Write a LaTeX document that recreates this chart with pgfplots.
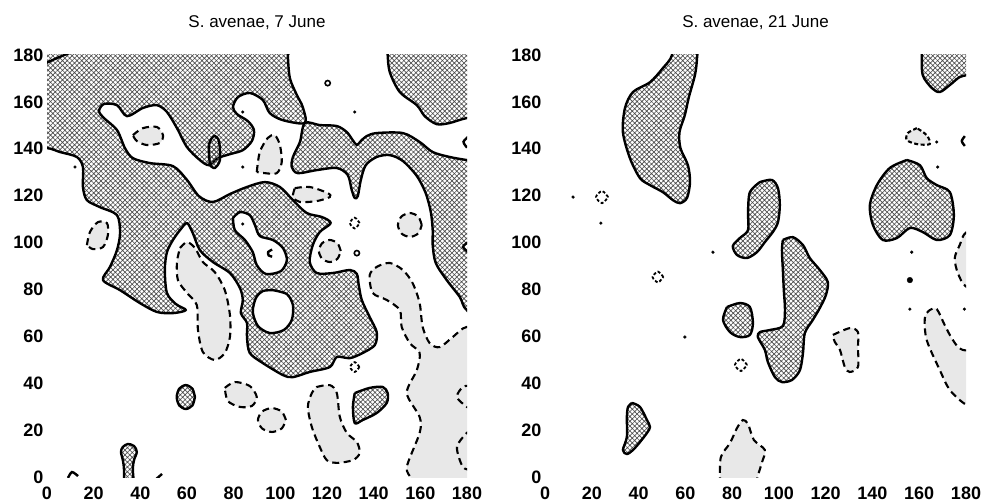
\documentclass[border=0pt]{standalone}
\usepackage{fontspec}
\setmainfont{Liberation Sans}
\usepackage{pgfplots}
\pgfplotsset{compat=1.18}
\usetikzlibrary{patterns.meta}
\tikzset{
 hatch/.style={draw=black, line width=2.4pt, line join=round, pattern={Hatch[angle=45,distance=3.4pt,line width=0.65pt]}, pattern color=black!70, smooth, mark=none},
 hole/.style={draw=black, line width=2.4pt, fill=white, smooth, mark=none},
 lowreg/.style={draw=black, line width=2.1pt, dash pattern=on 7pt off 4.5pt, fill=black!9, smooth, mark=none},
 tinyd/.style={draw=black, line width=1.8pt, dash pattern=on 3pt off 2pt, smooth, mark=none},
 cline/.style={draw=black, line width=2.4pt, smooth, mark=none},
 dline/.style={draw=black, line width=2.1pt, dash pattern=on 7pt off 4.5pt, smooth, mark=none},
}
\pgfplotsset{
 panel/.style={scale only axis, height=422pt, xmin=0, xmax=180, ymin=0, ymax=180,
  axis line style={draw=none}, major tick length=0pt, tick style={draw=none},
  xtick={0,20,...,180}, ytick={0,20,...,180},
  /pgf/number format/assume math mode=true,
  tick label style={font=\fontsize{18}{18}\selectfont\bfseries},
  xticklabel style={yshift=-6pt},
  title style={at={(0.5,1)}, anchor=base, yshift=21pt, font=\fontsize{17}{17}\selectfont},
  anchor=south west},
}
\begin{document}
\begin{tikzpicture}
\path[use as bounding box] (0,0) rectangle (984pt,503pt);
% ---------------- 7 June ----------------
\begin{axis}[panel, at={(47pt,26pt)}, width=420pt, title={S. avenae, 7 June}]
% H1 large hatched region
\addplot[hatch] coordinates {(-10,190) (103,188) (103.2,180) (104.1,170.1) (107.1,162.9) (109.6,157.8) (110.5,151.0) (101.1,152.2) (95.5,155.2) (92.5,160.8) (86.9,163.8) (81.8,162.0) (79.7,157.8) (81.4,154.8) (86.1,151.8) (88.7,148.0) (87.8,143.3) (83.9,139.4) (78.4,137.7) (73.2,136.0) (69.4,133.0) (65.5,135.2) (60.0,140.7) (55.7,148.8) (51.4,155.7) (47.1,158.6) (41.1,157.4) (34.3,153.9) (30.0,158.6) (24.4,159.1) (22.3,156.1) (24.4,153.1) (30.0,148.0) (33.4,140.3) (36.8,136.0) (44.1,133.9) (54.0,132.6) (60.0,126.7) (65.1,119.8) (71.1,117.3) (78.4,120.7) (85.7,123.7) (93.4,125.8) (99.8,123.7) (105.4,118.1) (111.3,112.6) (117.8,110.9) (121.6,108.3) (116.9,104.5) (113.9,98.9) (112.6,91.7) (115.6,87.0) (122.5,87.0) (129.8,88.3) (132.8,86.6) (133.6,81.9) (134.9,75.5) (138.3,68.2) (141.3,61.8) (140.5,56.3) (135.3,52.9) (129.8,50.7) (124.2,51.2) (121.2,46.9) (112.6,44.8) (105.4,42.6) (101.1,43.5) (92.5,48.6) (86.9,52.9) (85.7,59.7) (85.7,65.7) (83.1,69.9) (83.9,75.5) (82.7,80.6) (78.4,87.0) (71.1,91.7) (65.5,96.8) (62.5,104.0) (60.0,108.3) (57.0,105.3) (54.0,101.1) (51.4,95.9) (50.5,88.3) (51.4,78.5) (55.2,73.8) (59.5,71.2) (54.0,69.9) (47.1,70.4) (39.8,74.2) (31.3,79.7) (24.0,84.0) (27.0,89.6) (30.0,96.8) (31.3,104.0) (30.0,111.7) (22.7,115.1) (17.1,118.1) (15.4,123.7) (15.4,132.2) (12.8,136.5) (5.6,138.6) (0,140.3) (-10,140) (-10,190)};
% H2 middle right band
\addplot[hatch] coordinates {(190,134) (190,67) (179.9,71.2) (176.9,76.8) (171.3,84.0) (166.6,91.3) (165.3,98.9) (165.3,105.3) (164.5,113.0) (162.3,121.1) (158.5,128.4) (152.5,134.8) (146.9,137.3) (141.3,136.5) (136.6,133.0) (134.5,126.7) (133.2,119.8) (131.9,119.0) (130.6,122.4) (128.9,128.8) (124.2,131.8) (115.6,130.9) (107.5,129.6) (104.9,132.2) (105.4,136.5) (108.4,142.9) (110.5,151.0) (116.9,150.1) (124.2,149.7) (128.5,147.1) (131.0,143.7) (132.8,141.6) (134.5,143.3) (137.0,145.4) (141.3,146.7) (152.5,146.7) (159.7,142.9) (165.3,138.6) (172.6,136.5) (179.9,135.2) (190,134)};
% H3 top right corner
\addplot[hatch] coordinates {(146,190) (146,183) (146.0,180) (146.9,172.7) (151.2,164.2) (158.5,158.6) (161.9,153.9) (167.0,150.5) (172.6,151.0) (179.9,153.1) (190,154) (190,190) (146,190)};
% holes
\addplot[hole] coordinates {(79.7,110.5) (82.7,113.0) (86.9,111.7) (89.1,107.5) (91.2,102.8) (96.8,101.1) (101.1,97.7) (102.8,92.5) (100.2,87.8) (93.8,86.6) (89.9,90.4) (88.2,95.9) (84.8,101.1) (80.5,105.3) (79.7,110.5)};
\addplot[hole] coordinates {(96.8,79.7) (102.8,78.0) (105.4,73.3) (104.9,67.0) (101.5,62.7) (95.5,61.4) (90.4,64.4) (88.2,70.4) (89.5,76.3) (92.5,79.3) (96.8,79.7)};
% finger
\addplot[hatch] coordinates {(69.8,133.0) (69.4,141.6) (71.5,145.4) (73.7,143.3) (74.1,135.2) (71.9,131.8) (69.8,133.0)};
% small lines
\addplot[cline] coordinates {(-1,176.3) (4.3,178.7) (9.9,181)};
\addplot[cline] coordinates {(181,145.5) (178.5,143) (180,140.5)};
\addplot[cline, fill=white] coordinates {(181,100.5) (178.3,98.2) (181,95.5)};
\addplot[cline] coordinates {(96.5,97) (94.8,96) (95,94.5) (96.5,94)};
% low-density regions
\addplot[lowreg] coordinates {(36.8,145.8) (41.1,148.8) (47.1,149.3) (49.7,145.8) (48.4,142.5) (42.8,141.6) (38.5,143.3) (36.8,145.8)};
\addplot[lowreg] coordinates {(17.1,98.9) (18.4,104.5) (21.8,108.7) (25.7,108.3) (26.1,103.2) (24.0,98.1) (19.7,97.2) (17.1,98.9)};
\addplot[lowreg] coordinates {(89.9,130.1) (91.2,138.6) (94.6,144.6) (97.6,145.8) (99.8,141.6) (100.6,134.3) (98.5,129.6) (93.4,129.6) (89.9,130.1)};
\addplot[lowreg] coordinates {(106.2,123.2) (112.6,123.7) (120.3,121.1) (121.2,119.4) (115.6,117.7) (108.4,117.3) (105.4,119.4) (106.2,123.2)};
\addplot[lowreg] coordinates {(160.6,107.5) (159.1,111.1) (155.5,112.6) (151.9,111.1) (150.4,107.5) (151.9,103.9) (155.5,102.4) (159.1,103.9) (160.6,107.5)};
\addplot[tinyd] coordinates {(134.0,108.3) (131.9,110.6) (129.8,108.3) (131.9,106.0) (134.0,108.3)};
\addplot[lowreg] coordinates {(125.9,96.4) (124.5,99.7) (121.2,101.1) (117.9,99.7) (116.5,96.4) (117.9,93.1) (121.2,91.7) (124.5,93.1) (125.9,96.4)};
\addplot[lowreg] coordinates {(57.0,97.7) (60.0,100.2) (63.4,97.7) (66.8,91.7) (71.9,87.4) (76.2,79.7) (78.4,69.1) (78.4,59.7) (76.2,52.9) (71.9,49.9) (66.8,53.3) (64.7,62.7) (64.2,73.3) (60.0,78.5) (56.1,84.0) (55.7,91.7) (57.0,97.7)};
\addplot[lowreg] coordinates {(190,62) (179.9,64.0) (173.9,59.7) (168.3,55.4) (164.0,57.1) (161.0,64.0) (159.7,74.2) (156.7,82.7) (152.5,88.3) (146.9,91.3) (141.3,89.6) (138.3,86.1) (139.6,78.5) (145.6,75.5) (151.2,71.2) (152.0,64.0) (155.5,57.1) (159.7,52.9) (158.5,45.6) (154.2,35.8) (159.7,25.6) (159.7,18.8) (154.2,4.3) (156.3,-1.3) (157,-10) (190,-10) (190,62)};
\addplot[dline] coordinates {(182,39) (178.2,38.4) (175.7,34.1) (179.9,29.9) (182,29)};
\addplot[dline] coordinates {(182,20) (179.9,18.8) (175.7,12.8) (178.2,4.3) (182,3)};
\addplot[lowreg] coordinates {(115.6,38.4) (121.2,39.2) (124.2,35.8) (125.5,25.6) (128.5,18.8) (132.8,14.9) (134.0,10.2) (131.1,7.2) (124.2,6.0) (119.9,7.2) (116.9,12.8) (113.5,21.3) (111.8,29.9) (113.5,35.8) (115.6,38.4)};
\addplot[lowreg] coordinates {(102.4,24.3) (100.6,27.9) (96.4,29.4) (92.2,27.9) (90.4,24.3) (92.2,20.7) (96.4,19.2) (100.6,20.7) (102.4,24.3)};
\addplot[lowreg] coordinates {(76.2,38.0) (80.5,40.5) (86.9,38.8) (89.9,34.1) (87.8,30.3) (82.7,29.9) (77.5,32.4) (76.2,38.0)};
\addplot[tinyd] coordinates {(133.9,46.9) (131.9,49.0) (129.9,46.9) (131.9,44.8) (133.9,46.9)};
% small high-density patches
\addplot[hatch] coordinates {(63.4,34.1) (62.3,37.7) (59.5,39.2) (56.7,37.7) (55.6,34.1) (56.7,30.5) (59.5,29.0) (62.3,30.5) (63.4,34.1)};
\addplot[hatch] coordinates {(131.9,35.8) (138.3,38.0) (143.9,38.4) (146.0,35.8) (145.6,31.6) (141.3,27.3) (135.3,24.3) (131.9,23.0) (131.1,29.9) (131.9,35.8)};
\addplot[hatch] coordinates {(33.0,-8) (33.0,3.0) (32.5,7.2) (31.7,10.7) (32.5,12.8) (34.7,14.1) (37.3,13.2) (38.5,10.7) (37.3,7.2) (36.8,3.0) (37.3,-8) (33,-8)};
\addplot[cline] coordinates {(9.0,-0.4) (10.7,2.1) (13.3,0.4)};
\addplot[cline] coordinates {(46.3,-1.3) (49.3,1.3)};
% dots
\addplot[only marks, mark=*, mark size=1.4pt] coordinates {(12.0,132.2) (83.9,155.7) (83.9,132.2) (131.9,155.7) (83.9,107.9)};
\addplot[only marks, mark=o, mark size=2.6pt, line width=1.6pt] coordinates {(120.3,168.0) (132.8,95.5)};
\end{axis}
% ---------------- 21 June ----------------
\begin{axis}[panel, at={(545pt,26pt)}, width=421pt, title={S. avenae, 21 June}]
\addplot[hatch] coordinates {(54.3,190) (54.3,180) (50.4,174.4) (44.9,168.4) (37.6,164.2) (34.2,157.4) (33.3,147.1) (36.3,136.0) (40.6,127.5) (44.9,124.5) (50.4,121.5) (54.7,118.1) (57.7,116.8) (60.7,119.0) (62.0,125.8) (61.1,133.0) (57.9,140.3) (57.5,147.1) (59.8,154.4) (61.5,162.0) (64.1,171.4) (65.0,178.7) (65.2,190) (54.3,190)};
\addplot[hatch] coordinates {(161.1,190) (161.1,180) (161.5,171.4) (165.4,165.9) (168.8,164.2) (173.1,167.2) (177.3,170.6) (181,171.4) (190,172) (190,190) (161.1,190)};
\addplot[hatch] coordinates {(154.7,135.2) (147.4,131.8) (141.9,124.5) (138.9,116.0) (140.2,107.5) (144.4,101.1) (150.4,101.9) (156.0,106.2) (161.5,104.5) (167.5,101.1) (173.1,103.2) (174.8,111.7) (173.1,121.5) (167.5,124.5) (163.2,127.5) (160.3,133.0) (154.7,135.2)};
\addplot[hatch] coordinates {(91.9,125.8) (97.0,126.7) (99.6,123.2) (100.4,116.0) (99.6,108.7) (97.4,104.5) (94.0,100.2) (90.6,95.9) (86.3,93.4) (82.1,94.7) (80.3,98.5) (83.3,101.9) (86.8,105.3) (86.8,113.0) (87.6,121.5) (91.9,125.8)};
\addplot[hatch] coordinates {(101.7,101.1) (106.0,102.3) (110.3,98.9) (113.2,93.4) (117.5,88.3) (120.9,83.2) (120.1,77.6) (117.5,72.1) (114.5,67.0) (111.1,61.4) (110.3,52.9) (109.0,45.6) (105.6,41.4) (101.3,40.5) (98.3,42.6) (95.3,49.0) (94.0,54.2) (91.0,59.7) (91.9,61.8) (96.2,62.7) (101.7,64.4) (102.6,71.2) (102.1,79.7) (101.7,88.3) (101.3,96.8) (101.7,101.1)};
\addplot[hatch] coordinates {(77.8,72.5) (83.3,74.2) (87.6,72.5) (88.9,65.7) (87.6,60.6) (83.3,59.7) (79.1,61.8) (76.1,67.0) (77.8,72.5)};
\addplot[hatch] coordinates {(37.2,31.6) (40.6,29.9) (43.6,24.3) (44.9,21.3) (43.6,18.8) (40.6,14.9) (37.6,11.5) (35.0,9.8) (33.3,11.5) (35.0,17.1) (35.0,25.6) (35.5,29.9) (37.2,31.6)};
% low-density regions
\addplot[lowreg] coordinates {(123.1,60.6) (130.3,63.5) (133.8,61.8) (133.8,55.4) (133.8,46.9) (130.3,44.8) (128.2,46.9) (126.1,54.2) (123.9,57.6) (123.1,60.6)};
\addplot[lowreg] coordinates {(190,54) (178.6,54.2) (174.4,58.4) (170.9,64.8) (167.5,71.6) (164.5,71.2) (162.4,67.8) (163.2,58.4) (168.8,45.6) (173.1,37.1) (180.3,30.7) (190,28) (190,54)};
\addplot[lowreg] coordinates {(190,105) (180.3,104.5) (177.3,98.9) (175.2,93.4) (176.5,87.0) (180.3,81.0) (190,80) (190,105)};
\addplot[lowreg] coordinates {(74.8,-8) (74.8,-1.3) (75.2,8.5) (79.1,14.5) (82.1,20.9) (84.6,24.3) (86.8,22.6) (89.3,15.8) (94.0,11.5) (92.7,6.0) (90.6,-1.3) (90.6,-8) (74.8,-8)};
\addplot[lowreg, dash pattern=on 4pt off 2.5pt] coordinates {(159.0,148.8) (155.1,146.7) (154.7,143.7) (159.0,142.0) (164.5,142.0) (163.2,145.8) (159.0,148.8)};
\addplot[cline] coordinates {(179.5,145.4) (178.2,143.3) (179.5,141.2)};
\addplot[tinyd] coordinates {(27.0,119.4) (24.4,122.0) (21.8,119.4) (24.4,116.8) (27.0,119.4)};
\addplot[tinyd] coordinates {(50.6,85.3) (48.3,87.6) (46.0,85.3) (48.3,83.0) (50.6,85.3)};
\addplot[tinyd] coordinates {(86.4,47.8) (83.8,50.4) (81.2,47.8) (83.8,45.2) (86.4,47.8)};
% dots
\addplot[only marks, mark=*, mark size=1.4pt] coordinates {(12.0,119.4) (23.9,108.3) (59.8,59.7) (71.8,95.9) (167.9,132.2) (156.8,95.9) (156.0,71.6) (179.3,71.6) (167.5,142.9)};
\addplot[only marks, mark=*, mark size=2.8pt] coordinates {(156.0,84.0)};
\end{axis}
\end{tikzpicture}
\end{document}
